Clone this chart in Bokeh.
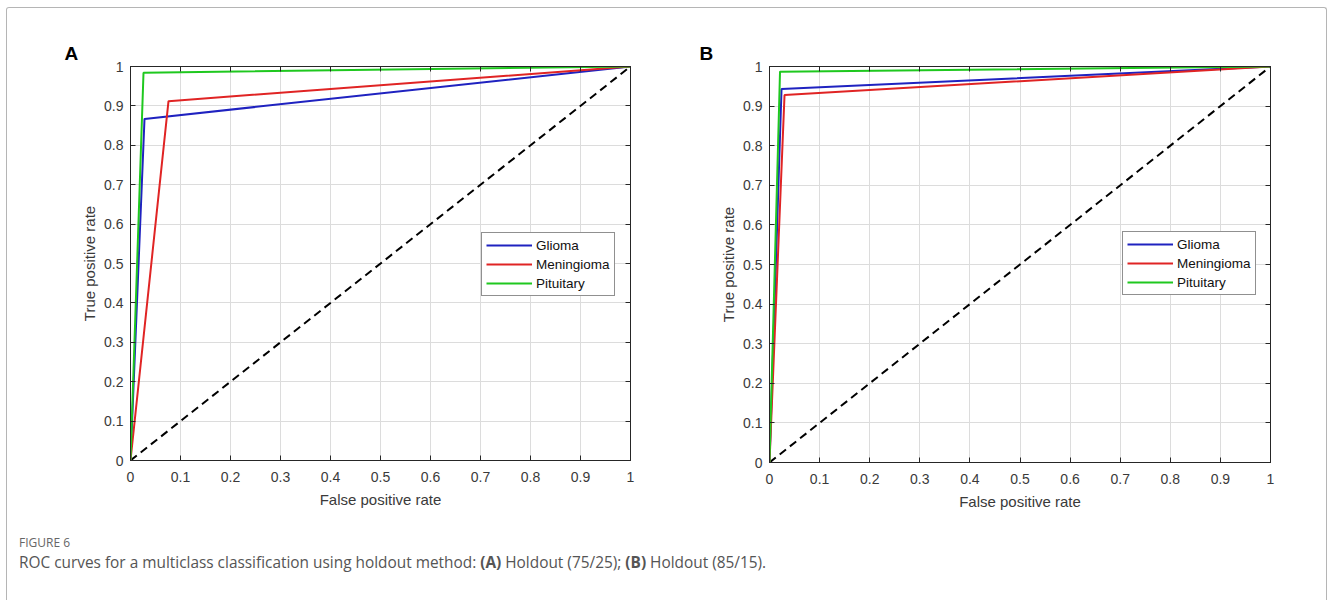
from bokeh.plotting import figure
from bokeh.models import (Range1d, FixedTicker, CustomJSTickFormatter, LinearAxis,
                          Legend, LegendItem, Div)
from bokeh.layouts import row, column
from bokeh.embed import file_html
from bokeh.resources import INLINE

# ---------------- data ----------------
tick_values = [0, 0.1, 0.2, 0.3, 0.4, 0.5, 0.6, 0.7, 0.8, 0.9, 1.0]
class_names = ["Glioma", "Meningioma", "Pituitary"]
class_colors = ["#1f22c0", "#e02424", "#1fc81f"]

diag_x = [0, 1]
diag_y = [0, 1]

# Panel A: Holdout (75/25)
glioma_a_fpr = [0, 0.028, 1]
glioma_a_tpr = [0, 0.867, 1]
meningioma_a_fpr = [0, 0.076, 1]
meningioma_a_tpr = [0, 0.912, 1]
pituitary_a_fpr = [0, 0.026, 1]
pituitary_a_tpr = [0, 0.984, 1]

# Panel B: Holdout (85/15)
glioma_b_fpr = [0, 0.024, 1]
glioma_b_tpr = [0, 0.943, 1]
meningioma_b_fpr = [0, 0.030, 1]
meningioma_b_tpr = [0, 0.928, 1]
pituitary_b_fpr = [0, 0.021, 1]
pituitary_b_tpr = [0, 0.987, 1]

FONT = "Liberation Sans"
AX_COL = "#262626"
TXT_COL = "#3a3a3a"


def style_axis(ax, show_labels):
    ax.ticker = FixedTicker(ticks=tick_values)
    ax.formatter = CustomJSTickFormatter(code="return (Math.round(tick*10)/10).toString();")
    ax.axis_line_color = AX_COL
    ax.axis_line_width = 1
    ax.major_tick_line_color = AX_COL
    ax.major_tick_in = 5
    ax.major_tick_out = 0
    ax.minor_tick_line_color = None
    ax.major_label_text_font = FONT
    ax.major_label_text_font_size = "14px"
    if show_labels:
        ax.major_label_text_color = TXT_COL
    else:
        ax.major_label_text_color = None
        ax.major_label_text_font_size = "2px"
        ax.major_label_standoff = 0


def make_panel(letter, curves, frame_w, frame_h, top, left, right, bottom,
               legend_loc, title_offset, title_standoff):
    p = figure(frame_width=frame_w, frame_height=frame_h,
               min_border_top=top, min_border_left=left,
               min_border_right=right, min_border_bottom=bottom,
               x_range=Range1d(0, 1), y_range=Range1d(0, 1),
               output_backend="svg", toolbar_location=None,
               background_fill_color="white", border_fill_color="white")
    p.title.text = letter
    p.title.align = "left"
    p.title.offset = title_offset
    p.title.standoff = title_standoff
    p.title.text_font = FONT
    p.title.text_font_size = "19px"
    p.title.text_font_style = "bold"
    p.title.text_color = "black"

    style_axis(p.xaxis[0], True)
    style_axis(p.yaxis[0], True)
    p.xaxis.major_label_standoff = 11
    p.yaxis.major_label_standoff = 7
    p.xaxis.axis_label = "False positive rate"
    p.yaxis.axis_label = "True positive rate"
    for ax in (p.xaxis[0], p.yaxis[0]):
        ax.axis_label_text_font = FONT
        ax.axis_label_text_font_size = "15px"
        ax.axis_label_text_font_style = "normal"
        ax.axis_label_text_color = TXT_COL
    p.xaxis.axis_label_standoff = 6
    p.yaxis.axis_label_standoff = 3

    top_ax = LinearAxis()
    right_ax = LinearAxis()
    style_axis(top_ax, False)
    style_axis(right_ax, False)
    p.add_layout(top_ax, "above")
    p.add_layout(right_ax, "right")

    p.xgrid.ticker = FixedTicker(ticks=tick_values)
    p.ygrid.ticker = FixedTicker(ticks=tick_values)
    p.grid.grid_line_color = "#dcdcdc"
    p.grid.grid_line_width = 1
    p.outline_line_color = AX_COL

    p.line(diag_x, diag_y, line_color="black", line_width=2, line_dash="8 5")

    items = []
    for name, color, (fx, ty) in zip(class_names, class_colors, curves):
        r = p.line(fx, ty, line_color=color, line_width=2)
        items.append(LegendItem(label=name, renderers=[r]))

    legend = Legend(items=items, location=legend_loc,
                    label_text_font=FONT, label_text_font_size="13.5px",
                    label_text_color="#111111",
                    glyph_width=46, glyph_height=16, label_height=16,
                    label_standoff=4, spacing=3, padding=4, margin=0,
                    border_line_color="#222222", border_line_width=1,
                    background_fill_color="white", background_fill_alpha=1)
    p.add_layout(legend, "center")
    return p


pA = make_panel("A",
                [(glioma_a_fpr, glioma_a_tpr),
                 (meningioma_a_fpr, meningioma_a_tpr),
                 (pituitary_a_fpr, pituitary_a_tpr)],
                500, 394, 58, 123, 18, 60, (351, 164), -66, 5)
pB = make_panel("B",
                [(glioma_b_fpr, glioma_b_tpr),
                 (meningioma_b_fpr, meningioma_b_tpr),
                 (pituitary_b_fpr, pituitary_b_tpr)],
                501, 396, 57, 121, 30, 59, (353, 167), -70, 6)

caption = Div(text=(
    "<div style=\"font-family:'Open Sans'; margin-left:7px;\">"
    "<div style='font-size:12px; color:#666; margin-top:9px;'>FIGURE 6</div>"
    "<div style='font-size:15.4px; color:#555; margin-top:1px;'>"
    "ROC curves for a multiclass classification using holdout method: "
    "<b>(A)</b> Holdout (75/25); <b>(B)</b> Holdout (85/15).</div></div>"),
    width=1290, height=62)

layout = column(row(pA, pB), caption,
                styles={"border": "1px solid #b5b5b5", "border-bottom": "none",
                        "border-radius": "3px 3px 0 0",
                        "width": "1321px", "height": "593px",
                        "margin-left": "6px", "margin-top": "7px"})

open("out.html", "w").write(file_html(layout, INLINE))
